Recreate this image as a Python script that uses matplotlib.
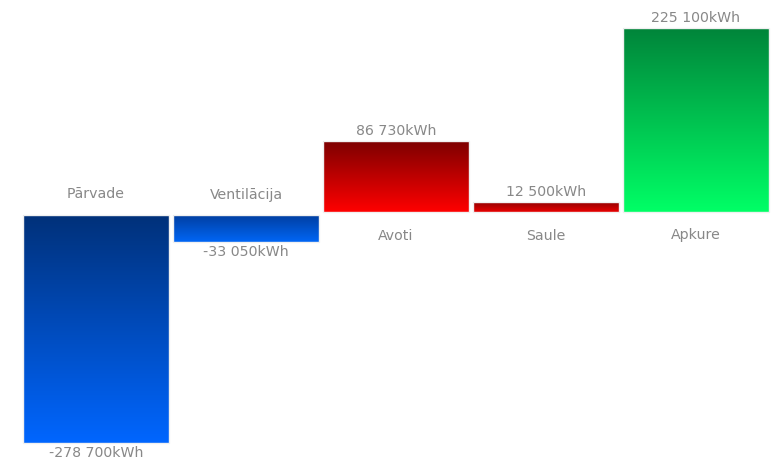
import numpy as np
import matplotlib.pyplot as plt
from matplotlib.colors import LinearSegmentedColormap

categories = ["Pārvade", "Ventilācija", "Avoti", "Saule", "Apkure"]
values = [-278700, -33050, 86730, 12500, 225100]
value_labels = ["-278 700kWh", "-33 050kWh", "86 730kWh", "12 500kWh", "225 100kWh"]
# top colour, bottom colour of each bar's gradient
top_colors = ["#00317a", "#003d9e", "#7d0000", "#8a0000", "#00843a"]
bottom_colors = ["#0066ff", "#0066f5", "#ff0000", "#e80000", "#00ff66"]

fig = plt.figure(figsize=(7.72, 4.59), dpi=100)
ax = fig.add_axes([0, 0, 1, 1])
ax.set_axis_off()

# one pixel in data units (kWh)
px = 1223.0
gap = 1.5 * px
bottoms = [-gap if v < 0 else gap for v in values]
x = np.arange(len(categories))
bars = ax.bar(x, values, width=146 / 150, bottom=bottoms, color="none",
              edgecolor="#f0f0f0", linewidth=1.0, zorder=3)

grad = np.linspace(0, 1, 256).reshape(-1, 1)
fs = 10.2
tc = "#888888"
for i, b in enumerate(bars):
    x0 = b.get_x()
    x1 = x0 + b.get_width()
    y0 = min(b.get_y(), b.get_y() + b.get_height())
    y1 = max(b.get_y(), b.get_y() + b.get_height())
    cmap = LinearSegmentedColormap.from_list("g%d" % i, [bottom_colors[i], top_colors[i]])
    im = ax.imshow(grad, cmap=cmap, origin="lower", aspect="auto",
                   extent=(x0, x1, y0, y1), interpolation="bilinear", zorder=2)
    im.set_clip_path(b)

    cx = x0 + b.get_width() / 2
    v = values[i]
    if v < 0:
        ax.text(cx, 19 * px, categories[i], ha="center", va="center",
                fontsize=fs, color=tc)
        ax.text(cx, y0 - 10 * px, value_labels[i], ha="center", va="center",
                fontsize=fs, color=tc)
    else:
        ax.text(cx, -22 * px, categories[i], ha="center", va="center",
                fontsize=fs, color=tc)
        ax.text(cx, y1 + 10 * px, value_labels[i], ha="center", va="center",
                fontsize=fs, color=tc)

ax.set_xlim((0 - 96) / 150, (772 - 96) / 150)
ax.set_ylim(-(459 - 213.5) * px, 213.5 * px)

fig.savefig("out.png", dpi=100, facecolor="white")
